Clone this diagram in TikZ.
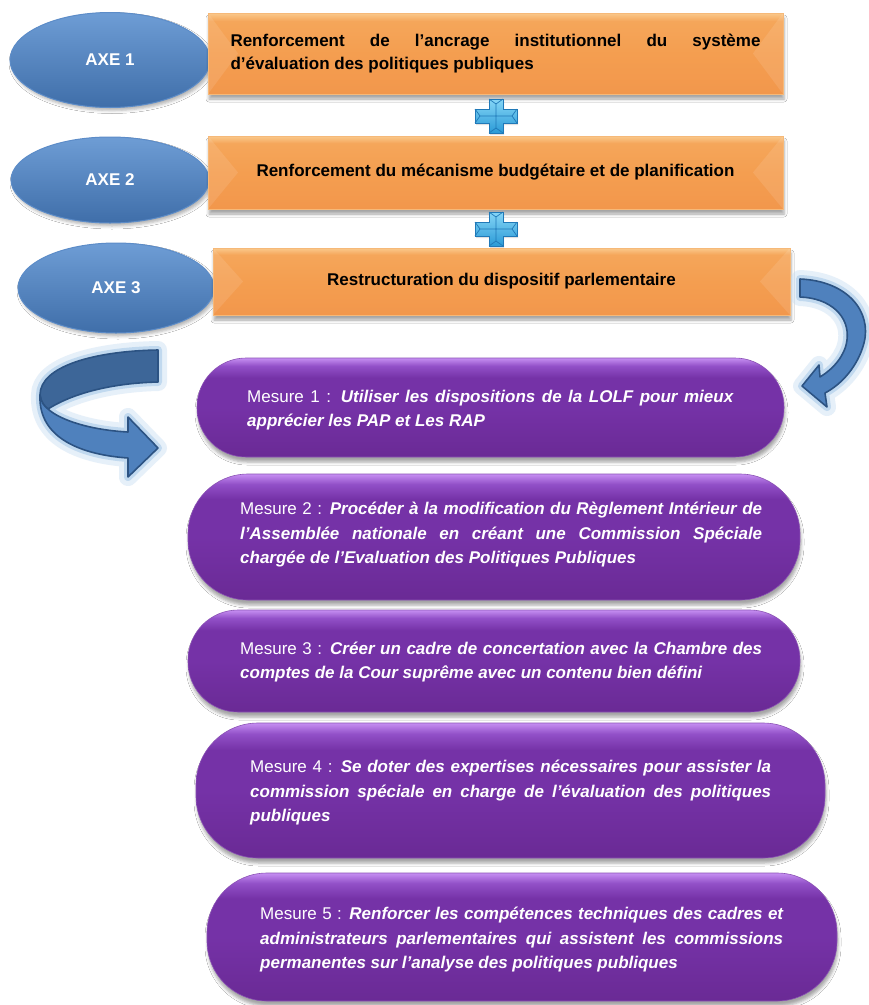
\documentclass[tikz,border=0pt]{standalone}
\usepackage{fontspec}
\setmainfont{Liberation Sans}
\usetikzlibrary{shapes.geometric,shadows.blur}
\definecolor{orTop}{HTML}{FAC98C}
\definecolor{orHi}{HTML}{F5A65A}
\definecolor{orMid}{HTML}{F49E50}
\definecolor{orBot}{HTML}{F2974C}
\definecolor{orRim}{HTML}{F6B979}
\definecolor{elTop}{HTML}{6E9DD5}
\definecolor{elBot}{HTML}{3F6EA9}
\definecolor{elRim}{HTML}{5C8CC8}
\definecolor{plTop}{HTML}{C68FF2}
\definecolor{plHi}{HTML}{9250C8}
\definecolor{plMid}{HTML}{7532A7}
\definecolor{plBot}{HTML}{6A2A95}
\definecolor{arDark}{HTML}{3D6698}
\definecolor{arLight}{HTML}{4F81BD}
\definecolor{arLine}{HTML}{2C5383}
\definecolor{glowA}{HTML}{C9DEF2}
\definecolor{glowB}{HTML}{9DC3E6}
\definecolor{crTop}{HTML}{86D6F7}
\definecolor{crBot}{HTML}{2A9AD6}
\definecolor{crLine}{HTML}{2079B8}
\pgfdeclareverticalshading{orsh}{100bp}{color(0bp)=(orBot); color(25bp)=(orBot); color(50bp)=(orMid); color(70bp)=(orHi); color(75bp)=(orTop); color(100bp)=(orTop)}
\pgfdeclareverticalshading{plsh}{100bp}{color(0bp)=(plBot); color(25bp)=(plBot); color(50bp)=(plMid); color(65bp)=(plMid); color(71bp)=(plHi); color(75bp)=(plTop); color(100bp)=(plTop)}
\newcommand\jline[2]{\hbox to #1{#2}}
\newcommand\bitx[1]{{\bfseries\itshape #1}}
\tikzset{
  axe/.style={ellipse, inner sep=0pt, draw=elRim, line width=1pt, top color=elTop, bottom color=elBot,
    text=white, font=\bfseries\fontsize{17}{20}\selectfont,
    blur shadow={shadow xshift=2pt, shadow yshift=-3pt, shadow opacity=30, shadow blur radius=3pt}},
  obox/.style={rectangle, inner sep=0pt, draw=orRim, line width=1pt, shade, shading=orsh, align=left,
    font=\bfseries\fontsize{17}{23}\selectfont,
    blur shadow={shadow xshift=1pt, shadow yshift=-5pt, shadow opacity=35, shadow blur radius=3pt},
    path picture={
      \fill[white,opacity=.10] (path picture bounding box.north west) -- ([xshift=30pt]path picture bounding box.west)
        -- (path picture bounding box.south west) -- cycle;
      \fill[white,opacity=.10] (path picture bounding box.north east) -- ([xshift=-30pt]path picture bounding box.east)
        -- (path picture bounding box.south east) -- cycle;
    }},
  pill/.style={rectangle, inner sep=0pt, shade, shading=plsh, draw=plMid!85!white, line width=.6pt,
    blur shadow={shadow xshift=1pt, shadow yshift=-5pt, shadow opacity=35, shadow blur radius=3pt}},
  ptext/.style={anchor=west, inner sep=0pt, text=white, align=left, font=\fontsize{17}{24.5}\selectfont},
  glowouter/.style={draw=glowA, line width=18pt, opacity=.45, line join=round},
  glowinner/.style={draw=glowB, line width=8pt, opacity=.5, line join=round},
  arrowline/.style={draw=arLine, line width=1.6pt, line join=round},
  plusicon/.pic={
    \fill[black,opacity=.12] (-6,-15) -- (8,-15) -- (8,-5) -- (22,-5) -- (22,9) -- (8,9) -- (8,19) -- (-6,19) -- (-6,9) -- (-20,9) -- (-20,-5) -- (-6,-5) -- cycle;
    \shadedraw[top color=crTop, bottom color=crBot, draw=crLine, line width=.6pt]
      (-7,-17) -- (7,-17) -- (7,-7) -- (21,-7) -- (21,7) -- (7,7) -- (7,17) -- (-7,17) -- (-7,7) -- (-21,7) -- (-21,-7) -- (-7,-7) -- cycle;
    \draw[crLine, line width=.7pt] (-16,0) -- (16,0) (0,-12) -- (0,12)
      (-21,-7) -- (-16,0) -- (-21,7) (21,-7) -- (16,0) -- (21,7)
      (-7,-17) -- (0,-12) -- (7,-17) (-7,17) -- (0,12) -- (7,17);
  }
}
\begin{document}
\begin{tikzpicture}[x=1pt,y=-1pt]
\useasboundingbox (0,0) rectangle (869,1005);
\fill[white] (0,0) rectangle (869,1005);

% axes ellipses
\node[axe, minimum width=200pt, minimum height=95pt] (e1) at (110,60) {AXE 1};
\node[axe, minimum width=198pt, minimum height=86pt] (e2) at (110,180) {AXE 2};
\node[axe, minimum width=196pt, minimum height=90pt] (e3) at (116,288) {AXE 3};

% orange boxes
\node[obox, minimum width=575pt, minimum height=81pt] (b1) at (495.5,53.5)
  {\jline{530pt}{Renforcement de l’ancrage institutionnel du système}\\ d’évaluation des politiques publiques};
\node[obox, minimum width=575pt, minimum height=73pt] (b2) at (495.5,172.5)
  {Renforcement du mécanisme budgétaire et de planification};
\node[obox, minimum width=577pt, minimum height=67pt] (b3) at (501.5,281.5)
  {Restructuration du dispositif parlementaire};

% plus icons
\pic (plus1) at (496,116) {plusicon};
\pic (plus2) at (496,229) {plusicon};

% right curved arrow
\path[preaction={glowouter}, preaction={glowinner}]
  (800,279) .. controls (848,281) and (872,312) .. (864,343) .. controls (858,366) and (842,384) .. (825,393)
  -- (827,407) -- (802,386) -- (819,365) -- (820,377)
  .. controls (833,369) and (845,356) .. (847,340) .. controls (850,316) and (830,298) .. (800,297) -- cycle;
\fill[fill=arLight, arrowline]
  (800,279) .. controls (848,281) and (872,312) .. (864,343) .. controls (858,366) and (842,384) .. (825,393)
  -- (827,407) -- (802,386) -- (819,365) -- (820,377)
  .. controls (833,369) and (845,356) .. (847,340) .. controls (850,316) and (830,298) .. (800,297) -- cycle;

% left curved arrow
\path[preaction={glowouter}, preaction={glowinner}]
  (158,350) .. controls (95,351) and (40,366) .. (40,395) .. controls (38,440) and (85,455) .. (128,458)
  -- (128,477) -- (158,448) -- (128,417) -- (128,432)
  .. controls (90,430) and (60,420) .. (48,409) .. controls (75,392) and (115,383) .. (158,382) -- cycle;
\fill[fill=arDark, arrowline]
  (158,350) .. controls (95,351) and (40,366) .. (40,395) .. controls (41,402) and (44,406) .. (48,409)
  .. controls (75,392) and (115,383) .. (158,382) -- cycle;
\fill[fill=arLight, arrowline]
  (40,395) .. controls (38,440) and (85,455) .. (128,458) -- (128,477) -- (158,448) -- (128,417) -- (128,432)
  .. controls (90,430) and (60,420) .. (48,409) .. controls (44,406) and (41,402) .. (40,395) -- cycle;

% purple pills
\node[pill, minimum width=587pt, minimum height=99pt, rounded corners=49pt] (p1) at (490.5,407.5) {};
\node[pill, minimum width=612pt, minimum height=126pt, rounded corners=60pt] (p2) at (494,537) {};
\node[pill, minimum width=612pt, minimum height=102pt, rounded corners=50pt] (p3) at (494,661) {};
\node[pill, minimum width=629pt, minimum height=135pt, rounded corners=62pt] (p4) at (510.5,790.5) {};
\node[pill, minimum width=630pt, minimum height=128pt, rounded corners=60pt] (p5) at (522,937) {};

\node[ptext] (t1) at (247,410)
  {\jline{486pt}{Mesure 1 : \bitx{Utiliser les dispositions de la LOLF pour mieux}}\\ \bitx{apprécier les PAP et Les RAP}};
\node[ptext] (t2) at (240,535)
  {\jline{522pt}{Mesure 2 : \bitx{Procéder à la modification du Règlement Intérieur de}}\\
   \jline{522pt}{\bitx{l’Assemblée nationale en créant une Commission Spéciale}}\\
   \bitx{chargée de l’Evaluation des Politiques Publiques}};
\node[ptext] (t3) at (240,662)
  {\jline{522pt}{Mesure 3 : \bitx{Créer un cadre de concertation avec la Chambre des}}\\
   \bitx{comptes de la Cour suprême avec un contenu bien défini}};
\node[ptext] (t4) at (250,793)
  {\jline{521pt}{Mesure 4 : \bitx{Se doter des expertises nécessaires pour assister la}}\\
   \jline{521pt}{\bitx{commission spéciale en charge de l’évaluation des politiques}}\\
   \bitx{publiques}};
\node[ptext] (t5) at (260,940)
  {\jline{523pt}{Mesure 5 : \bitx{Renforcer les compétences techniques des cadres et}}\\
   \jline{523pt}{\bitx{administrateurs parlementaires qui assistent les commissions}}\\
   \bitx{permanentes sur l’analyse des politiques publiques}};
\end{tikzpicture}
\end{document}
